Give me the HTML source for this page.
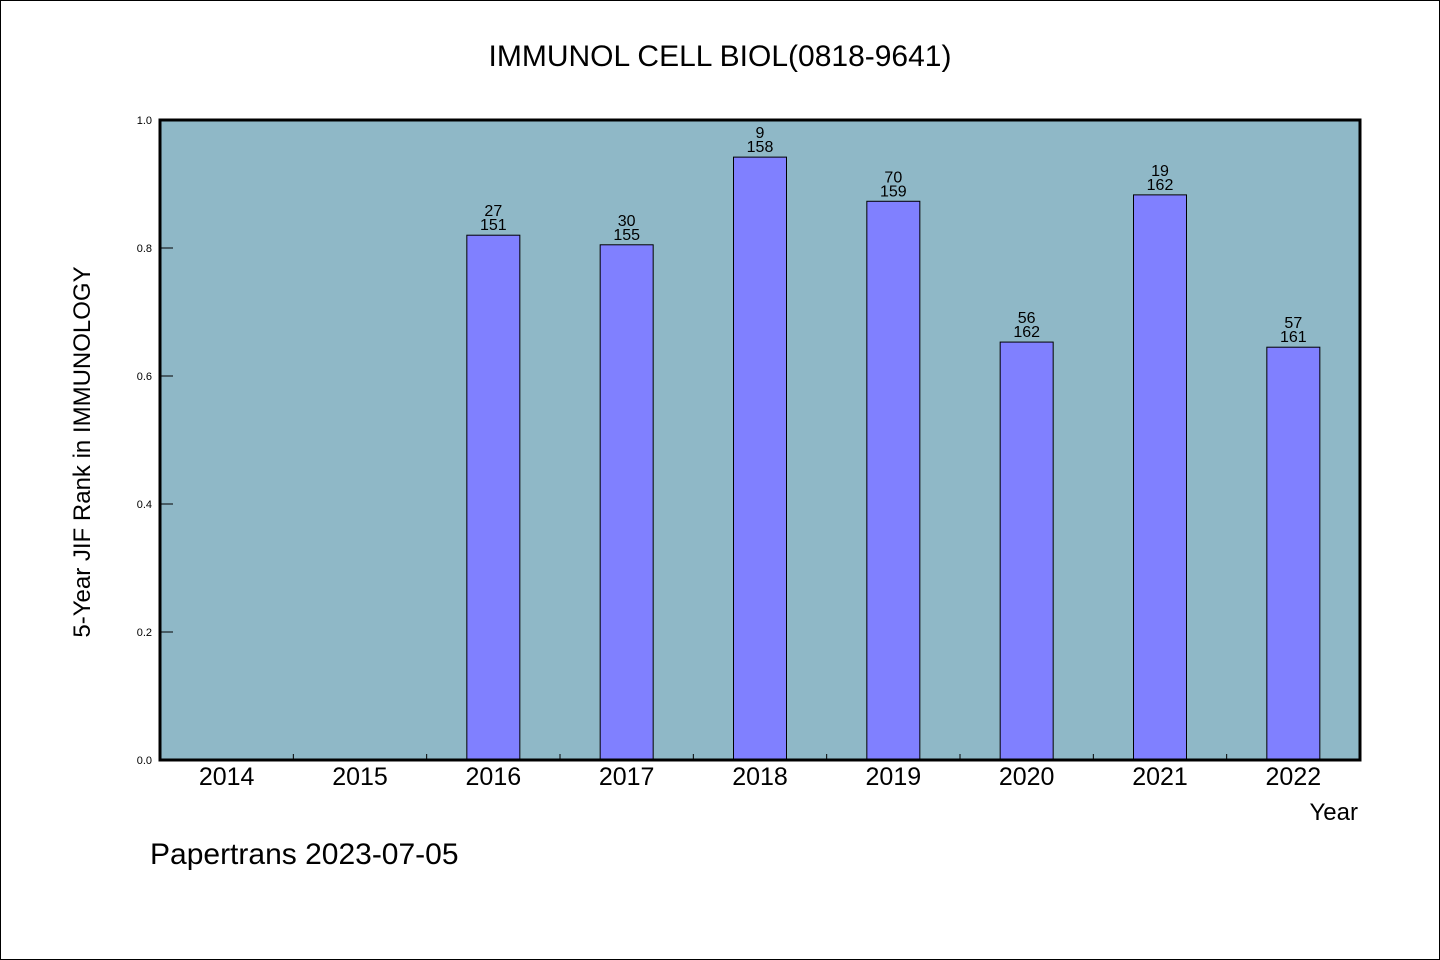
<!DOCTYPE html>
<html><head><meta charset="utf-8"><style>
body{margin:0;background:#fff}
svg{display:block}
text{font-family:"WenQuanYi Zen Hei","Liberation Sans",sans-serif;fill:#000}
</style></head><body>
<svg width="1440" height="960">
<rect x="0.5" y="0.5" width="1439" height="959" fill="#fff" stroke="#000"/>
<text x="720" y="66" font-size="30" text-anchor="middle">IMMUNOL CELL BIOL(0818-9641)</text>
<rect x="160" y="120" width="1200" height="640" fill="#8fb8c7"/>
<g id="marks"></g>
<rect x="160" y="120" width="1200" height="640" fill="none" stroke="#000" stroke-width="3"/>
<text x="90" y="452" font-size="24" text-anchor="middle" transform="rotate(-90 90 452)">5-Year JIF Rank in IMMUNOLOGY</text>
<text x="1358" y="820" font-size="24" text-anchor="end">Year</text>
<text x="150" y="864" font-size="30">Papertrans 2023-07-05</text>
</svg>
<script>
const years=["2014","2015","2016","2017","2018","2019","2020","2021","2022"];
const values=[null,null,0.820,0.805,0.942,0.873,0.653,0.883,0.645];
const ranks=["","","27","30","9","70","56","19","57"];
const totals=["","","151","155","158","159","162","162","161"];
const yTicks=[0,0.2,0.4,0.6,0.8,1.0];
const yTickLabels=["0.0","0.2","0.4","0.6","0.8","1.0"];
const NS="http://www.w3.org/2000/svg";
const g=document.getElementById('marks');
const x0=160,pw=1200,y0=760,ph=640;
const band=pw/years.length;
const xs=i=>x0+band*i;
const ys=v=>y0-v*ph;
function mk(t,a){const e=document.createElementNS(NS,t);for(const k in a)e.setAttribute(k,a[k]);g.appendChild(e);return e;}
yTicks.forEach((v,i)=>{
  const l=mk('line',{x1:160,x2:173,y1:ys(v),y2:ys(v),stroke:'#000','stroke-width':1});
  
  
  const t=mk('text',{x:152,y:ys(v)+4,'font-size':11,'text-anchor':'end'});
  t.textContent=yTickLabels[i];
  
  
});
years.forEach((yr,i)=>{
  if(i>0){const l=mk('line',{x1:xs(i),x2:xs(i),y1:y0,y2:y0-6,stroke:'#000','stroke-width':1});
  
  }
  const cx=xs(i)+band/2;
  const t=mk('text',{x:cx,y:785,'font-size':25,'text-anchor':'middle'});
  t.textContent=yr;
  
  
  const v=values[i];
  if(v!=null){
    const r=mk('rect',{x:cx-26.5,y:ys(v),width:53,height:v*ph,fill:'#8080ff',stroke:'#000','stroke-width':1});
    
    
    const a=mk('text',{x:cx,y:ys(v)-19,'font-size':16,'text-anchor':'middle'});
    a.textContent=ranks[i];
    
    
    const b=mk('text',{x:cx,y:ys(v)-5,'font-size':16,'text-anchor':'middle'});
    b.textContent=totals[i];
    
    
  }
});
</script>
</body></html>
